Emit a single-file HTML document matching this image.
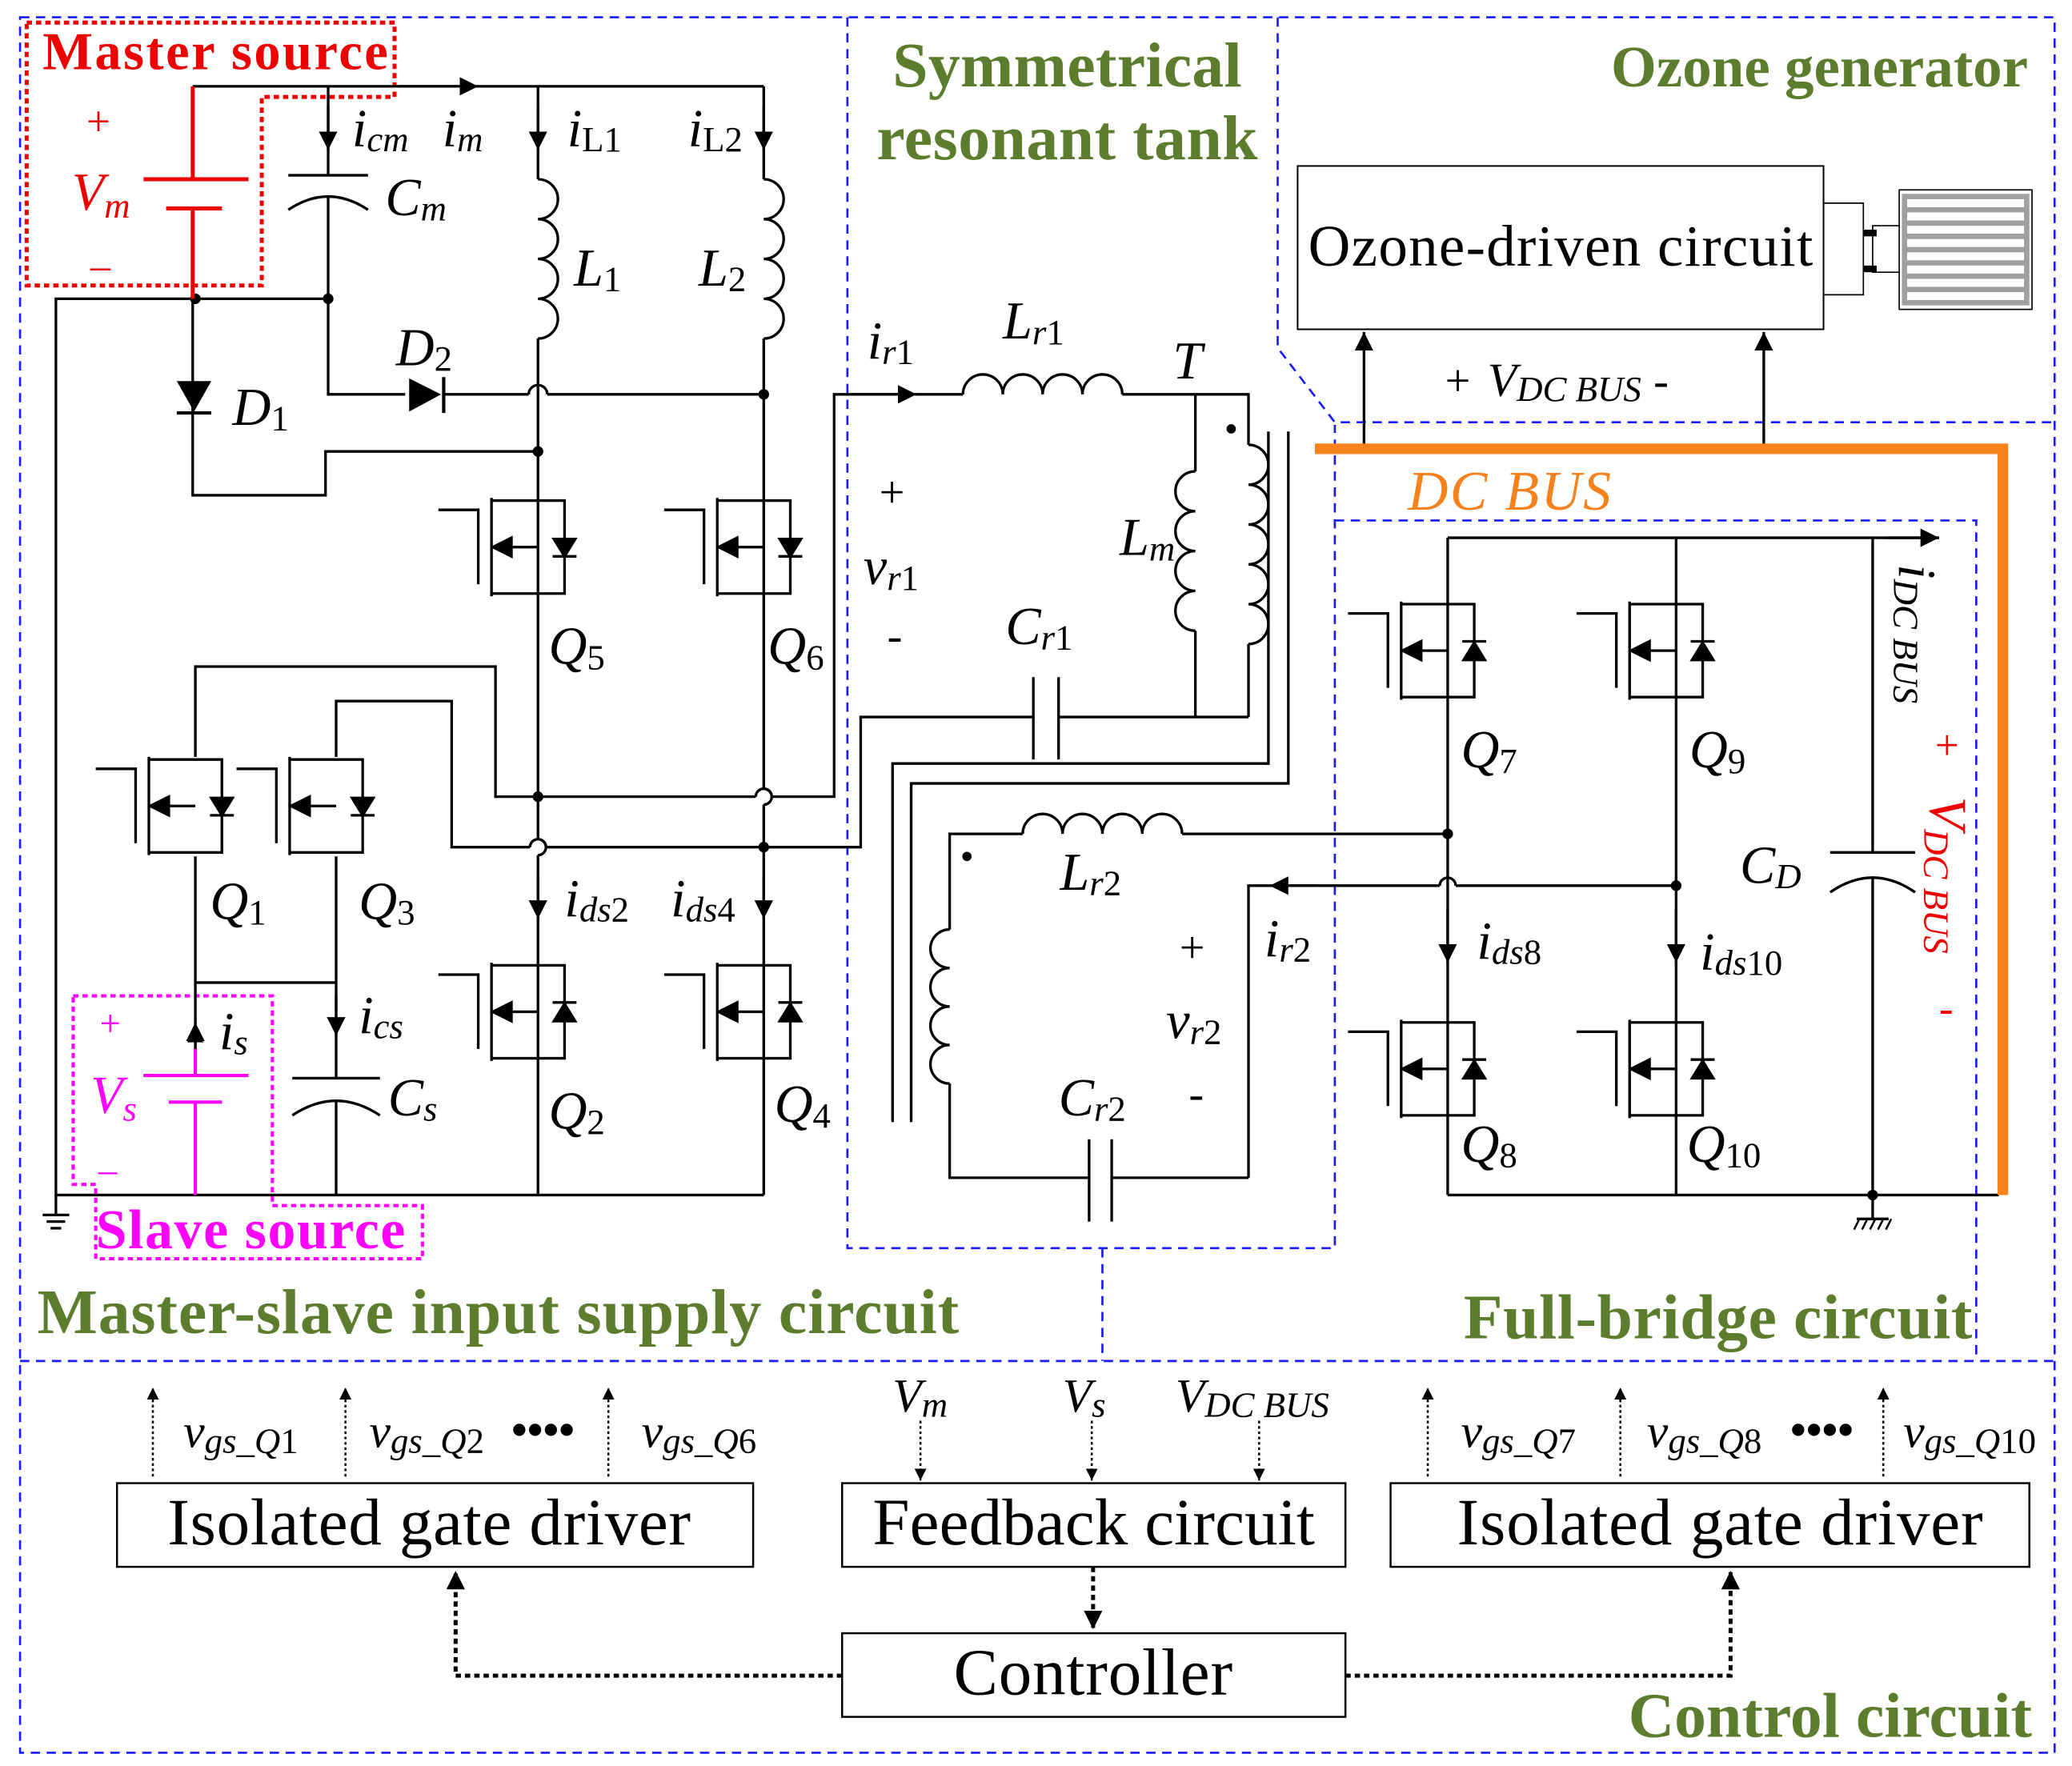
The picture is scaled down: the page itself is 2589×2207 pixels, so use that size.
<!DOCTYPE html>
<html><head><meta charset="utf-8"><style>
html,body{margin:0;padding:0;background:#fff}
svg{display:block}
text{font-family:"Liberation Serif",serif}
.v{font-style:italic;font-size:40px}
.s{font-size:27px;font-style:normal}
.si{font-size:27px;font-style:italic}
.g{fill:#5d7d2e;font-weight:bold;font-size:48px}
</style></head><body>
<svg width="2589" height="2207" viewBox="0 0 1560 1330" xmlns="http://www.w3.org/2000/svg">
<defs>
<marker id="ar" viewBox="0 0 10 10" refX="10" refY="5" markerWidth="9" markerHeight="9" orient="auto" markerUnits="userSpaceOnUse"><path d="M0,0L10,5L0,10z" fill="#000"/></marker>
<marker id="ar2" viewBox="0 0 10 10" refX="10" refY="5" markerWidth="14" markerHeight="16" orient="auto" markerUnits="userSpaceOnUse"><path d="M0,0L10,5L0,10z" fill="#000"/></marker>
<g id="mos" stroke="#000" stroke-width="2" fill="none">
<polyline points="-75,12 -45,12 -45,68"/>
<line x1="-35" y1="3" x2="-35" y2="77"/>
<polyline points="-35,5 20,5 20,75 -35,75"/>
<line x1="-22" y1="40" x2="0" y2="40"/>
<path d="M-34,40L-20,33L-20,47z" fill="#000"/>
<path d="M12,34L28,34L20,47z" fill="#000"/>
<line x1="11" y1="47" x2="29" y2="47"/>
</g>
<g id="mosu" stroke="#000" stroke-width="2" fill="none">
<polyline points="-75,12 -45,12 -45,68"/>
<line x1="-35" y1="3" x2="-35" y2="77"/>
<polyline points="-35,5 20,5 20,75 -35,75"/>
<line x1="-22" y1="40" x2="0" y2="40"/>
<path d="M-34,40L-20,33L-20,47z" fill="#000"/>
<path d="M12,47L28,47L20,34z" fill="#000"/>
<line x1="11" y1="33" x2="29" y2="33"/>
</g>
</defs>

<g stroke="#1a1aff" stroke-width="1.6" fill="none" stroke-dasharray="7,5">
<rect x="15" y="13" width="1532" height="1307"/>
<line x1="15" y1="1025" x2="1547" y2="1025"/>
<polyline points="638,13 638,940 1005,940 1005,320"/>
<polyline points="962,13 962,262 1005,318 1547,318"/>
<polyline points="1005,392 1488,392 1488,1025"/>
<line x1="830" y1="940" x2="830" y2="1025"/>
</g>
<polygon points="20,17 297,17 297,73 197,73 197,215 20,215" fill="none" stroke="#e00" stroke-width="3" stroke-dasharray="4,3"/>
<polygon points="55,750 205,750 205,908 318,908 318,948 72,948 72,892 55,892" fill="none" stroke="#f0f" stroke-width="2.5" stroke-dasharray="4,3"/>

<g stroke="#000" stroke-width="2" fill="none">
<line x1="145" y1="65" x2="575" y2="65"/>
<line x1="300" y1="65" x2="360" y2="65" marker-end="url(#ar2)"/>
<polyline points="145,225 42,225 42,900 575,900"/>
<line x1="145" y1="225" x2="247" y2="225"/>
<line x1="247" y1="65" x2="247" y2="132"/>
<line x1="247" y1="80" x2="247" y2="113" marker-end="url(#ar2)"/>
<line x1="217" y1="132" x2="277" y2="132"/>
<path d="M217,158 Q247,138 277,158"/>
<polyline points="247,148 247,297 305,297"/>
<line x1="335" y1="297" x2="398" y2="297"/>
<path d="M398,297 a7,7 0 0 1 14,0"/>
<line x1="412" y1="297" x2="575" y2="297"/>
<polyline points="145,225 145,373 245,373 245,340 405,340"/>
<polyline points="405,65 405,135"/>
<line x1="405" y1="80" x2="405" y2="113" marker-end="url(#ar2)"/>
<path d="M405,135 a15,15 0 0 1 0,30 a15,15 0 0 1 0,30 a15,15 0 0 1 0,30 a15,15 0 0 1 0,30"/>
<line x1="405" y1="255" x2="405" y2="632"/>
<path d="M405,632 a6,6 0 0 1 0,12"/>
<line x1="405" y1="644" x2="405" y2="900"/>
<line x1="405" y1="660" x2="405" y2="692" marker-end="url(#ar2)"/>
<line x1="575" y1="65" x2="575" y2="135"/>
<line x1="575" y1="80" x2="575" y2="113" marker-end="url(#ar2)"/>
<path d="M575,135 a15,15 0 0 1 0,30 a15,15 0 0 1 0,30 a15,15 0 0 1 0,30 a15,15 0 0 1 0,30"/>
<line x1="575" y1="255" x2="575" y2="594"/>
<path d="M575,594 a6,6 0 0 1 0,12"/>
<line x1="575" y1="606" x2="575" y2="900"/>
<line x1="575" y1="660" x2="575" y2="692" marker-end="url(#ar2)"/>
<polyline points="147,570 147,502 373,502 373,600 569,600"/>
<path d="M569,600 a6,6 0 0 1 12,0"/>
<polyline points="581,600 628,600 628,297 725,297"/>
<line x1="640" y1="297" x2="690" y2="297" marker-end="url(#ar2)"/>
<polyline points="253,570 253,528 340,528 340,638 399,638"/>
<path d="M399,638 a6,6 0 0 1 12,0"/>
<polyline points="411,638 648,638 648,540 778,540"/>
<line x1="797" y1="540" x2="940" y2="540"/>
<line x1="778" y1="510" x2="778" y2="572"/>
<line x1="797" y1="510" x2="797" y2="572"/>
<polyline points="147,645 147,810"/>
<line x1="147" y1="795" x2="147" y2="770" marker-end="url(#ar2)"/>
<line x1="108" y1="810" x2="187" y2="810"/>
<line x1="127" y1="830" x2="167" y2="830"/>
<line x1="147" y1="830" x2="147" y2="900"/>
<polyline points="147,740 253,740"/>
<line x1="253" y1="645" x2="253" y2="812"/>
<line x1="253" y1="750" x2="253" y2="780" marker-end="url(#ar2)"/>
<line x1="220" y1="812" x2="286" y2="812"/>
<path d="M220,840 Q253,818 286,840"/>
<line x1="253" y1="828" x2="253" y2="900"/>
<line x1="42" y1="900" x2="42" y2="915"/>
<line x1="32" y1="915" x2="52" y2="915"/><line x1="35" y1="920" x2="49" y2="920"/><line x1="38" y1="925" x2="46" y2="925"/>
<path d="M725,297 a15,15 0 0 1 30,0 a15,15 0 0 1 30,0 a15,15 0 0 1 30,0 a15,15 0 0 1 30,0"/>
<polyline points="845,297 940,297 940,335"/>
<path d="M940,335 a15,15 0 0 1 0,30 a15,15 0 0 1 0,30 a15,15 0 0 1 0,30 a15,15 0 0 1 0,30 a15,15 0 0 1 0,30"/>
<line x1="940" y1="485" x2="940" y2="540"/>
<line x1="900" y1="297" x2="900" y2="355"/>
<path d="M900,355 a15,15 0 0 0 0,30 a15,15 0 0 0 0,30 a15,15 0 0 0 0,30 a15,15 0 0 0 0,30"/>
<line x1="900" y1="475" x2="900" y2="540"/>
<polyline points="955,325 955,575 672,575 672,845"/>
<polyline points="970,325 970,590 686,590 686,845"/>
<polyline points="715,700 715,628 770,628"/>
<path d="M770,628 a15,15 0 0 1 30,0 a15,15 0 0 1 30,0 a15,15 0 0 1 30,0 a15,15 0 0 1 30,0"/>
<line x1="890" y1="628" x2="1090" y2="628"/>
<path d="M715,700 a14.5,14.5 0 0 0 0,29 a14.5,14.5 0 0 0 0,29 a14.5,14.5 0 0 0 0,29 a14.5,14.5 0 0 0 0,29"/>
<polyline points="715,816 715,887 820,887"/>
<line x1="837" y1="887" x2="940" y2="887"/>
<line x1="820" y1="858" x2="820" y2="920"/>
<line x1="837" y1="858" x2="837" y2="920"/>
<polyline points="940,887 940,667 1084,667"/>
<path d="M1084,667 a6,6 0 0 1 12,0"/>
<line x1="1096" y1="667" x2="1262" y2="667"/>
<line x1="990" y1="667" x2="956" y2="667" marker-end="url(#ar2)"/>
<polyline points="1090,405 1460,405"/>
<line x1="1420" y1="405" x2="1460" y2="405" marker-end="url(#ar2)"/>
<line x1="1090" y1="405" x2="1090" y2="900"/>
<line x1="1262" y1="405" x2="1262" y2="900"/>
<line x1="1090" y1="900" x2="1505" y2="900"/>
<line x1="1090" y1="685" x2="1090" y2="725" marker-end="url(#ar2)"/>
<line x1="1262" y1="685" x2="1262" y2="725" marker-end="url(#ar2)"/>
<line x1="1410" y1="405" x2="1410" y2="642"/>
<line x1="1378" y1="642" x2="1442" y2="642"/>
<path d="M1378,672 Q1410,650 1442,672"/>
<line x1="1410" y1="660" x2="1410" y2="900"/>
<line x1="1410" y1="900" x2="1410" y2="918"/>
<line x1="1398" y1="918" x2="1422" y2="918"/>
<path d="M1400,918l-4,8M1406,918l-4,8M1412,918l-4,8M1418,918l-4,8M1424,918l-4,8" stroke-width="1.5"/>
<line x1="1027" y1="338" x2="1027" y2="250" marker-end="url(#ar2)"/>
<line x1="1328" y1="338" x2="1328" y2="250" marker-end="url(#ar2)"/>
</g>
<g fill="#000">
<path d="M133,287L159,287L146,310z"/><line x1="133" y1="311" x2="159" y2="311" stroke="#000" stroke-width="2.5"/>
<path d="M308,285L308,310L332,297z"/><line x1="334" y1="284" x2="334" y2="311" stroke="#000" stroke-width="2.5"/>
<circle cx="147" cy="225" r="4"/><circle cx="247" cy="225" r="4"/><circle cx="405" cy="340" r="4"/>
<circle cx="575" cy="297" r="4"/><circle cx="405" cy="600" r="4"/><circle cx="575" cy="638" r="4"/>
<circle cx="1090" cy="628" r="4"/><circle cx="1262" cy="667" r="4"/><circle cx="1410" cy="900" r="4"/>
<circle cx="927" cy="323" r="3.5"/><circle cx="728" cy="645" r="3.5"/>
</g>
<g stroke="#e00" stroke-width="3">
<line x1="145" y1="65" x2="145" y2="135"/><line x1="108" y1="135" x2="187" y2="135"/>
<line x1="125" y1="157" x2="167" y2="157"/><line x1="145" y1="157" x2="145" y2="225"/>
</g>
<g stroke="#f0f" stroke-width="2.5">
<line x1="147" y1="790" x2="147" y2="810"/><line x1="108" y1="810" x2="187" y2="810"/>
<line x1="127" y1="830" x2="167" y2="830"/><line x1="147" y1="830" x2="147" y2="900"/>
</g>
<path d="M147,770L141,785L153,785z" fill="#000"/>

<use href="#mos" x="405" y="372"/><use href="#mos" x="575" y="372"/>
<use href="#mos" x="147" y="567"/><use href="#mos" x="253" y="567"/>
<use href="#mosu" x="405" y="722"/><use href="#mosu" x="575" y="722"/>
<use href="#mosu" x="1090" y="450"/><use href="#mosu" x="1262" y="450"/>
<use href="#mosu" x="1090" y="765"/><use href="#mosu" x="1262" y="765"/>

<polyline points="990,338 1508,338 1508,900" fill="none" stroke="#f7821b" stroke-width="8"/>

<rect x="977" y="125" width="396" height="123" fill="#fff" stroke="#000" stroke-width="1.2"/>
<polyline points="1373,153 1403,153 1403,222 1373,222" fill="none" stroke="#000" stroke-width="1"/>
<polyline points="1430,170 1410,170 1410,205 1430,205" fill="none" stroke="#000" stroke-width="1"/>
<rect x="1403" y="173" width="10" height="5"/><rect x="1403" y="200" width="10" height="5"/>
<rect x="1430" y="143" width="100" height="90" fill="#fff" stroke="#000" stroke-width="1"/>
<g stroke="#a0a0a0" stroke-width="4" fill="none">
<rect x="1434" y="148" width="92" height="80"/>
<line x1="1434" y1="158" x2="1526" y2="158"/><line x1="1434" y1="168" x2="1526" y2="168"/><line x1="1434" y1="178" x2="1526" y2="178"/>
<line x1="1434" y1="188" x2="1526" y2="188"/><line x1="1434" y1="198" x2="1526" y2="198"/><line x1="1434" y1="208" x2="1526" y2="208"/><line x1="1434" y1="218" x2="1526" y2="218"/>
</g>

<g fill="#fff" stroke="#000" stroke-width="1.5">
<rect x="88" y="1117" width="479" height="63"/>
<rect x="634" y="1117" width="379" height="63"/>
<rect x="1047" y="1117" width="481" height="63"/>
<rect x="634" y="1230" width="379" height="63"/>
</g>
<g stroke="#000" stroke-width="1.5" stroke-dasharray="2,2" fill="none">
<line x1="115" y1="1112" x2="115" y2="1045" marker-end="url(#ar)"/>
<line x1="260" y1="1112" x2="260" y2="1045" marker-end="url(#ar)"/>
<line x1="458" y1="1112" x2="458" y2="1045" marker-end="url(#ar)"/>
<line x1="1075" y1="1112" x2="1075" y2="1045" marker-end="url(#ar)"/>
<line x1="1220" y1="1112" x2="1220" y2="1045" marker-end="url(#ar)"/>
<line x1="1418" y1="1112" x2="1418" y2="1045" marker-end="url(#ar)"/>
<line x1="693" y1="1070" x2="693" y2="1115" marker-end="url(#ar)"/>
<line x1="822" y1="1070" x2="822" y2="1115" marker-end="url(#ar)"/>
<line x1="948" y1="1070" x2="948" y2="1115" marker-end="url(#ar)"/>
</g>
<g stroke="#000" stroke-width="3" stroke-dasharray="4,3" fill="none">
<line x1="823" y1="1180" x2="823" y2="1227" marker-end="url(#ar2)"/>
<polyline points="634,1262 343,1262 343,1183" marker-end="url(#ar2)"/>
<polyline points="1013,1262 1303,1262 1303,1183" marker-end="url(#ar2)"/>
</g>

<g font-size="50">
<text x="126" y="1163" textLength="394">Isolated gate driver</text>
<text x="657" y="1163" textLength="333">Feedback circuit</text>
<text x="1097" y="1163" textLength="396">Isolated gate driver</text>
<text x="718" y="1276" textLength="210">Controller</text>
<text x="985" y="200" font-size="44" textLength="380">Ozone-driven circuit</text>
</g>
<g class="g">
<text x="672" y="65" textLength="263">Symmetrical</text>
<text x="660" y="120" textLength="287">resonant tank</text>
<text x="1213" y="65" font-size="44" textLength="314">Ozone generator</text>
<text x="28" y="1004" textLength="694">Master-slave input supply circuit</text>
<text x="1102" y="1008" textLength="383">Full-bridge circuit</text>
<text x="1226" y="1308" textLength="304">Control circuit</text>
</g>
<text x="32" y="52" fill="#e00" font-weight="bold" font-size="40" textLength="260">Master source</text>
<text x="72" y="940" fill="#f0f" font-weight="bold" font-size="42" textLength="233">Slave source</text>
<text x="1060" y="384" fill="#f7821b" font-style="italic" font-size="42" textLength="153">DC BUS</text>

<g fill="#e00"><text x="65" y="102" font-size="32">+</text><text x="54" y="158" class="v">V<tspan class="si" dy="6">m</tspan></text><text x="68" y="210" font-size="30">–</text></g>
<g fill="#f0f"><text x="75" y="780" font-size="28">+</text><text x="68" y="838" class="v">V<tspan class="si" dy="6">s</tspan></text><text x="74" y="890" font-size="28">–</text></g>

<g class="v" fill="#000">
<text x="265" y="110">i<tspan class="si" dy="4">cm</tspan></text>
<text x="333" y="110">i<tspan class="si" dy="4">m</tspan></text>
<text x="427" y="110">i<tspan class="s" dy="4">L1</tspan></text>
<text x="518" y="110">i<tspan class="s" dy="4">L2</tspan></text>
<text x="290" y="162">C<tspan class="si" dy="4">m</tspan></text>
<text x="432" y="215">L<tspan class="s" dy="4">1</tspan></text>
<text x="526" y="215">L<tspan class="s" dy="4">2</tspan></text>
<text x="298" y="275">D<tspan class="s" dy="4">2</tspan></text>
<text x="175" y="320">D<tspan class="s" dy="4">1</tspan></text>
<text x="413" y="500">Q<tspan class="s" dy="4">5</tspan></text>
<text x="578" y="500">Q<tspan class="s" dy="4">6</tspan></text>
<text x="158" y="692">Q<tspan class="s" dy="4">1</tspan></text>
<text x="270" y="692">Q<tspan class="s" dy="4">3</tspan></text>
<text x="425" y="690">i<tspan class="si" dy="4">ds</tspan><tspan class="s">2</tspan></text>
<text x="505" y="690">i<tspan class="si" dy="4">ds</tspan><tspan class="s">4</tspan></text>
<text x="165" y="790">i<tspan class="si" dy="4">s</tspan></text>
<text x="270" y="778">i<tspan class="si" dy="4">cs</tspan></text>
<text x="292" y="840">C<tspan class="si" dy="4">s</tspan></text>
<text x="413" y="850">Q<tspan class="s" dy="4">2</tspan></text>
<text x="583" y="845">Q<tspan class="s" dy="4">4</tspan></text>
<text x="653" y="270">i<tspan class="si" dy="4">r</tspan><tspan class="s">1</tspan></text>
<text x="755" y="255">L<tspan class="si" dy="4">r</tspan><tspan class="s">1</tspan></text>
<text x="883" y="285">T</text>
<text x="843" y="418">L<tspan class="si" dy="4">m</tspan></text>
<text x="650" y="440">v<tspan class="si" dy="4">r</tspan><tspan class="s">1</tspan></text>
<text x="757" y="485">C<tspan class="si" dy="4">r</tspan><tspan class="s">1</tspan></text>
<text x="798" y="670">L<tspan class="si" dy="4">r</tspan><tspan class="s">2</tspan></text>
<text x="952" y="720">i<tspan class="si" dy="4">r</tspan><tspan class="s">2</tspan></text>
<text x="878" y="782">v<tspan class="si" dy="4">r</tspan><tspan class="s">2</tspan></text>
<text x="797" y="840">C<tspan class="si" dy="4">r</tspan><tspan class="s">2</tspan></text>
<text x="1100" y="578">Q<tspan class="s" dy="4">7</tspan></text>
<text x="1272" y="578">Q<tspan class="s" dy="4">9</tspan></text>
<text x="1112" y="722">i<tspan class="si" dy="4">ds</tspan><tspan class="s">8</tspan></text>
<text x="1280" y="730">i<tspan class="si" dy="4">ds</tspan><tspan class="s">10</tspan></text>
<text x="1310" y="665">C<tspan class="si" dy="4">D</tspan></text>
<text x="1100" y="875">Q<tspan class="s" dy="4">8</tspan></text>
<text x="1270" y="875">Q<tspan class="s" dy="4">10</tspan></text>
<text x="1120" y="298" font-size="36">V<tspan class="si" dy="4">DC BUS</tspan></text>
<text x="672" y="1063" font-size="36">V<tspan class="si" dy="4">m</tspan></text>
<text x="800" y="1063" font-size="36">V<tspan class="si" dy="4">s</tspan></text>
<text x="885" y="1063" font-size="36">V<tspan class="si" dy="4">DC BUS</tspan></text>
<text x="138" y="1090" font-size="36">v<tspan class="si" dy="4">gs_Q</tspan><tspan class="s">1</tspan></text>
<text x="278" y="1090" font-size="36">v<tspan class="si" dy="4">gs_Q</tspan><tspan class="s">2</tspan></text>
<text x="483" y="1090" font-size="36">v<tspan class="si" dy="4">gs_Q</tspan><tspan class="s">6</tspan></text>
<text x="1100" y="1090" font-size="36">v<tspan class="si" dy="4">gs_Q</tspan><tspan class="s">7</tspan></text>
<text x="1240" y="1090" font-size="36">v<tspan class="si" dy="4">gs_Q</tspan><tspan class="s">8</tspan></text>
<text x="1433" y="1090" font-size="36">v<tspan class="si" dy="4">gs_Q</tspan><tspan class="s">10</tspan></text>
</g>
<g font-size="34" fill="#000">
<text x="1088" y="298">+</text><text x="1245" y="298">-</text>
<text x="662" y="382">+</text><text x="668" y="490">-</text>
<text x="888" y="725">+</text><text x="895" y="835">-</text>
<text x="385" y="1088" font-weight="bold">••••</text>
<text x="1348" y="1088" font-weight="bold">••••</text>
</g>
<text x="1430" y="425" class="v" transform="rotate(90 1430 425)" fill="#000">i<tspan class="si" dy="4">DC BUS</tspan></text>
<text x="1457" y="572" font-size="32" fill="#e00">+</text>
<text x="1453" y="600" class="v" fill="#e00" transform="rotate(90 1453 600)">V<tspan class="si" dy="4">DC BUS</tspan></text>
<text x="1460" y="770" font-size="32" fill="#e00">-</text>
</svg>
</body></html>
